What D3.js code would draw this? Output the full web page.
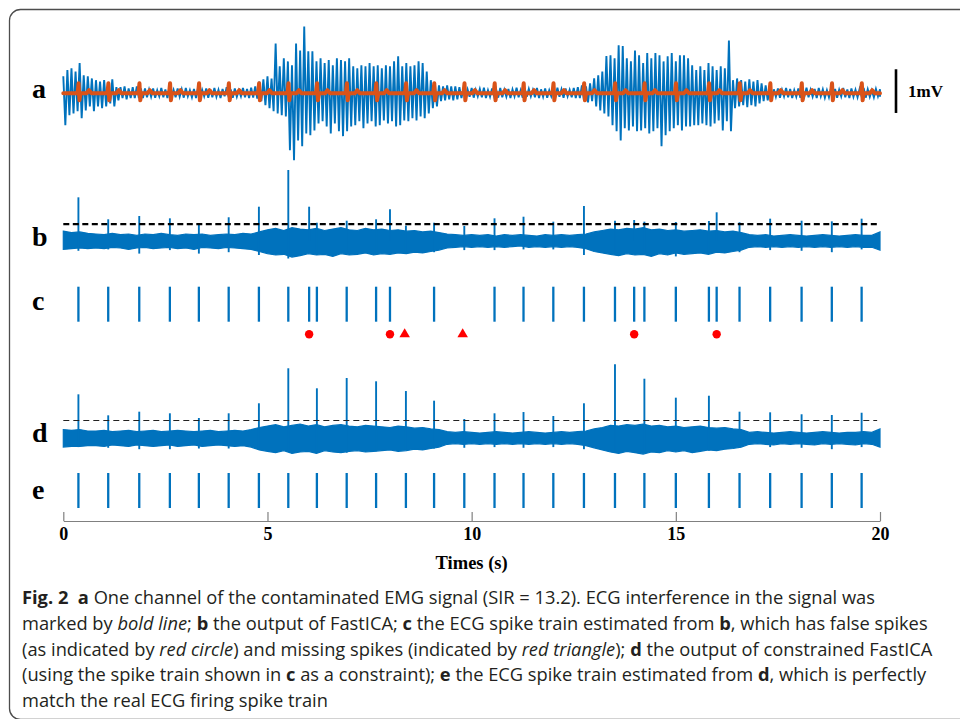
<!DOCTYPE html>
<html>
<head>
<meta charset="utf-8">
<script src="https://cdn.jsdelivr.net/npm/d3@7"></script>
<style>
  html, body { margin: 0; padding: 0; background: #fff; }
  svg { display: block; }
</style>
</head>
<body>
<div id="fig"></div>
<script>
// ---- Data ----
// time axis
const tickValues = [0, 5, 10, 15, 20];

// a: EMG envelope, upper / lower extreme every 0.1 s (mV)
const aStep = 0.1;
const aHi = [0.39,0.53,0.57,0.50,0.69,0.41,0.39,0.34,0.30,0.27,0.30,0.23,0.32,0.14,0.14,0.16,0.11,0.14,0.16,0.11,0.11,
  0.09,0.11,0.07,0.12,0.09,0.14,0.08,0.11,0.09,0.12,0.07,0.10,0.13,0.08,0.11,0.09,0.12,0.08,0.10,0.14,0.09,0.11,0.07,0.12,0.10,0.13,0.16,
  0.27,0.32,0.39,0.34,1.14,0.62,0.80,0.73,0.64,1.14,0.98,1.53,0.96,0.96,0.73,0.80,0.69,0.76,0.64,0.80,0.76,0.73,0.80,0.62,0.57,0.64,0.62,0.69,0.62,0.64,0.57,0.64,0.62,0.73,0.85,0.62,0.69,0.62,0.64,0.73,0.69,0.50,0.30,0.23,0.18,0.16,0.18,0.16,0.16,0.14,0.11,
  0.09,0.12,0.08,0.10,0.13,0.07,0.11,0.09,0.12,0.08,0.10,0.09,0.13,0.07,0.11,0.10,0.08,0.12,0.09,0.11,0.07,0.10,0.13,0.09,0.11,0.08,0.12,
  0.14,0.18,0.16,0.23,0.34,0.41,0.50,0.85,0.87,0.80,1.10,1.08,0.80,0.73,0.98,0.87,0.69,0.92,0.80,0.92,0.87,0.73,0.85,0.92,0.73,0.87,0.87,0.80,0.64,0.53,0.62,0.53,0.69,0.62,0.53,0.62,0.57,1.21,0.30,0.34,0.30,0.27,0.32,0.27,0.30,0.23,0.18,0.14,
  0.09,0.11,0.08,0.12,0.10,0.07,0.11,0.09,0.13,0.08,0.10,0.12,0.09,0.07,0.11,0.10,0.08,0.12,0.09,0.11,0.08,0.10,0.12,0.09,0.07,0.10,0.09];
const aLo = [-0.73,-0.50,-0.46,-0.41,-0.57,-0.39,-0.30,-0.41,-0.30,-0.34,-0.30,-0.23,-0.30,-0.16,-0.11,-0.14,-0.11,-0.11,-0.11,-0.11,-0.09,
  -0.08,-0.10,-0.07,-0.09,-0.11,-0.07,-0.09,-0.08,-0.10,-0.07,-0.09,-0.11,-0.08,-0.07,-0.10,-0.09,-0.08,-0.11,-0.07,-0.09,-0.10,-0.08,-0.07,-0.09,-0.11,-0.10,-0.12,
  -0.18,-0.27,-0.34,-0.41,-0.46,-0.50,-0.53,-1.30,-1.53,-1.08,-1.21,-0.92,-0.96,-0.85,-0.69,-0.64,-0.76,-0.92,-0.69,-0.87,-0.98,-0.87,-0.76,-0.73,-0.64,-0.80,-0.69,-0.64,-0.76,-0.73,-0.62,-0.69,-0.64,-0.76,-0.73,-0.62,-0.64,-0.57,-0.62,-0.53,-0.57,-0.46,-0.34,-0.30,-0.18,-0.16,-0.14,-0.16,-0.14,-0.11,-0.09,
  -0.08,-0.10,-0.07,-0.09,-0.11,-0.08,-0.07,-0.10,-0.09,-0.08,-0.11,-0.07,-0.09,-0.10,-0.08,-0.07,-0.09,-0.11,-0.08,-0.10,-0.07,-0.09,-0.08,-0.10,-0.07,-0.09,-0.11,
  -0.11,-0.16,-0.21,-0.18,-0.30,-0.39,-0.46,-0.53,-0.73,-0.87,-1.08,-0.80,-0.85,-0.76,-0.87,-0.85,-0.80,-0.92,-0.87,-0.80,-1.21,-0.96,-0.87,-0.80,-0.73,-0.85,-0.76,-0.76,-0.73,-0.73,-0.69,-0.73,-0.76,-0.69,-0.62,-0.85,-0.64,-0.87,-0.34,-0.30,-0.27,-0.32,-0.27,-0.30,-0.23,-0.18,-0.16,-0.11,
  -0.08,-0.10,-0.07,-0.09,-0.11,-0.08,-0.10,-0.07,-0.09,-0.08,-0.11,-0.07,-0.10,-0.09,-0.08,-0.10,-0.07,-0.09,-0.11,-0.08,-0.09,-0.07,-0.10,-0.08,-0.09,-0.07,-0.08];

// ECG waveform (bold line) template: time offset from each beat (s) and amplitude (mV)
const ecgOffset = [-0.05, -0.015, 0.005, 0.025, 0.05, 0.2, 0.26, 0.32];
const ecgValue = [0, 0.04, 0.23, -0.16, 0, 0, 0.07, 0];

// real ECG beat times (s) = spike train e
const trueSpikes = [0.37,1.10,1.86,2.61,3.32,4.05,4.79,5.51,6.21,6.94,7.66,8.39,9.08,9.82,
  10.56,11.27,12.00,12.75,13.51,14.23,15.00,15.81,16.56,17.31,18.08,18.82,19.55];

// b: FastICA output, noise band every 0.2 s (a.u.)
const bStep = 0.2;
const bHi = [1.4,1.2,1.3,1.1,
  1.0,0.9,1.1,0.9,1.0,0.8,1.0,0.9,1.1,0.9,0.8,1.0,0.9,1.0,0.8,0.9,1.0,0.9,1.1,1.0,
  1.3,1.6,1.8,1.5,1.9,1.7,1.6,1.8,1.5,1.7,1.9,1.6,1.5,1.8,1.6,1.7,1.5,1.6,1.4,1.5,1.3,1.4,1.2,
  1.0,0.9,0.8,0.9,0.8,0.9,0.7,0.9,0.8,0.9,0.8,0.7,0.9,0.8,0.9,0.8,0.9,1.0,
  1.3,1.5,1.7,1.6,1.8,1.7,1.9,1.6,1.7,1.5,1.6,1.4,1.5,1.6,1.4,1.5,1.3,1.4,1.2,
  0.9,0.8,0.9,0.7,0.8,0.9,0.8,0.7,0.8,0.9,0.8,0.7,0.8,0.9,0.8,0.8,1.3];
const bLo = [-1.2,-1.1,-1.0,-1.1,
  -1.0,-1.1,-0.9,-1.0,-1.2,-1.0,-0.9,-1.1,-1.0,-0.9,-1.1,-1.0,-1.2,-0.9,-1.0,-1.1,-0.9,-1.0,-1.1,-1.2,
  -1.5,-1.8,-2.0,-1.9,-2.3,-2.1,-1.8,-2.0,-1.9,-2.2,-1.8,-2.0,-1.9,-1.7,-2.0,-1.8,-1.9,-1.7,-1.8,-1.6,-1.7,-1.5,-1.3,
  -1.0,-0.9,-0.8,-0.9,-0.8,-0.9,-0.8,-0.9,-0.8,-0.7,-0.9,-0.8,-0.9,-0.8,-0.9,-0.8,-0.9,-1.1,
  -1.5,-1.7,-1.9,-2.1,-1.8,-2.0,-1.9,-2.2,-1.8,-2.0,-1.7,-1.9,-1.8,-1.7,-1.9,-1.6,-1.7,-1.5,-1.3,
  -0.9,-0.8,-0.9,-0.8,-0.9,-0.8,-0.9,-0.8,-0.9,-0.8,-0.9,-0.8,-0.9,-0.8,-0.9,-0.9,-1.3];
// b: peak / trough at each real beat, and at the false detections
const bPeaks = [6.24,3.1,3.57,3.24,2.55,3.39,4.9,10.14,2.61,2.9,3.1,2.2,2.61,2.15,
  3.24,3.47,2.76,5.0,2.9,2.76,2.71,2.86,2.67,3.19,2.9,2.81,3.19];
const bTroughs = [-1.4,-1.2,-1.8,-1.3,-1.8,-1.6,-2.0,-2.5,-2.0,-1.8,-1.9,-1.6,-1.6,-1.3,
  -1.3,-1.2,-1.2,-2.0,-1.8,-1.8,-2.2,-1.6,-1.6,-1.3,-1.4,-1.6,-1.2];
const falseSpikes = [6.02, 8.00, 13.98, 16.00];
const bFalsePeaks = [4.9, 4.53, 3.0, 4.1];
const bThreshold = 2.4;

// c: spike train estimated from b, and missed beats
const cSpikes = [0.37,1.10,1.86,2.61,3.32,4.05,4.79,5.51,6.02,6.21,6.94,7.66,8.00,9.08,
  10.56,11.27,12.00,12.75,13.51,13.98,14.23,15.00,15.81,16.00,16.56,17.31,18.08,18.82,19.55];
const missedSpikes = [8.36, 9.78];

// d: constrained FastICA output (a.u.)
const dStep = 0.2;
const dHi = [1.2,1.1,1.2,1.0,
  1.0,1.1,0.9,1.0,1.1,0.9,1.0,1.1,0.9,1.0,1.1,1.0,0.9,1.0,1.1,0.9,1.0,1.1,1.0,1.2,
  1.5,1.7,1.9,1.6,1.8,2.0,1.7,1.9,1.6,1.8,1.9,1.7,1.6,1.8,1.7,1.6,1.5,1.7,1.6,1.4,1.5,1.3,1.2,
  0.9,0.8,0.9,0.8,0.7,0.8,0.9,0.8,0.7,0.8,0.9,0.8,0.7,0.8,0.9,0.8,0.9,1.0,
  1.3,1.5,1.8,1.7,1.9,1.8,2.0,1.7,1.8,1.6,1.7,1.5,1.6,1.7,1.5,1.4,1.5,1.3,1.2,
  0.8,0.9,0.8,0.7,0.8,0.9,0.8,0.7,0.8,0.9,0.8,0.7,0.8,0.8,0.9,0.8,1.3];
const dLo = [-1.3,-1.2,-1.2,-1.1,
  -1.1,-1.2,-1.0,-1.1,-1.2,-1.0,-1.1,-1.2,-1.1,-1.0,-1.2,-1.1,-1.0,-1.2,-1.1,-1.0,-1.1,-1.2,-1.1,-1.3,
  -1.7,-1.9,-2.1,-1.8,-2.2,-2.0,-1.9,-2.2,-1.8,-2.0,-2.1,-1.9,-1.8,-2.0,-1.9,-1.8,-1.7,-1.9,-1.8,-1.6,-1.7,-1.5,-1.3,
  -0.9,-0.8,-0.9,-0.8,-0.9,-0.8,-0.9,-0.8,-0.9,-0.8,-0.9,-0.8,-0.9,-0.8,-0.9,-0.8,-0.9,-1.1,
  -1.4,-1.7,-2.0,-2.2,-1.9,-2.1,-2.3,-2.0,-2.1,-1.8,-2.0,-1.8,-2.1,-1.9,-1.7,-1.8,-1.6,-1.5,-1.3,
  -0.9,-0.8,-0.9,-1.0,-0.8,-0.9,-0.8,-0.9,-1.0,-0.8,-0.9,-0.8,-0.9,-1.0,-0.8,-0.9,-1.3];
const dPeaks = [6.24,3.24,3.76,3.53,2.86,3.53,4.96,9.96,7.1,8.57,8.1,6.71,5.33,2.71,
  3.53,3.71,3.14,4.96,10.53,8.47,5.76,6.04,3.76,3.67,3.39,3.29,3.61];
const dTroughs = [-1.3,-1.4,-1.6,-1.6,-1.5,-1.5,-1.7,-1.9,-1.9,-2.1,-1.9,-1.7,-1.5,-1.4,
  -1.3,-1.4,-1.3,-1.6,-2.1,-1.9,-1.7,-1.8,-1.4,-1.3,-1.4,-1.6,-1.3];
const dThreshold = 2.5;

const panelLabels = ['a', 'b', 'c', 'd', 'e'];

// caption lines: [text, style]
const captionLines = [
  [['Fig. 2', 'b'], ['  ', ''], ['a', 'b'], [' One channel of the contaminated EMG signal (SIR = 13.2). ECG interference in the signal was', '']],
  [['marked by ', ''], ['bold line', 'i'], ['; ', ''], ['b', 'b'], [' the output of FastICA; ', ''], ['c', 'b'], [' the ECG spike train estimated from ', ''], ['b', 'b'], [', which has false spikes', '']],
  [['(as indicated by ', ''], ['red circle', 'i'], [') and missing spikes (indicated by ', ''], ['red triangle', 'i'], ['); ', ''], ['d', 'b'], [' the output of constrained FastICA', '']],
  [['(using the spike train shown in ', ''], ['c', 'b'], [' as a constraint); ', ''], ['e', 'b'], [' the ECG spike train estimated from ', ''], ['d', 'b'], [', which is perfectly', '']],
  [['match the real ECG firing spike train', '']]
];

// ---- Drawing ----
const WIDTH = 960;
const HEIGHT = 719;
const BLUE = '#0072bd';
const ORANGE = '#d95319';
const RED = '#ff0000';
const SERIF = '"Liberation Serif", "Times New Roman", serif';
const SANS = '"Open Sans", "Noto Sans", sans-serif';

const svg = d3.select('#fig').append('svg')
  .attr('width', WIDTH)
  .attr('height', HEIGHT)
  .attr('viewBox', `0 0 ${WIDTH} ${HEIGHT}`);

// frame
svg.append('rect')
  .attr('x', 9.5).attr('y', 9.5)
  .attr('width', 1000).attr('height', 710)
  .attr('rx', 11)
  .attr('fill', 'none')
  .attr('stroke', '#4d4d4d')
  .attr('stroke-width', 1.3);

// scales
const x = d3.scaleLinear().domain([0, 20]).range([63.3, 880]);
const yA = d3.scaleLinear().domain([-1, 1]).range([137, 49.6]);
const yB = d3.scaleLinear().domain([-2, 10]).range([255, 171]);
const yC = d3.scaleLinear().domain([0, 1]).range([321.7, 286.7]);
const yD = d3.scaleLinear().domain([-2, 10]).range([452, 368]);
const yE = d3.scaleLinear().domain([0, 1]).range([508, 473]);

// a: contaminated EMG as zigzag between extremes
const aPts = [];
aHi.forEach((v, i) => {
  aPts.push([i * aStep, v]);
  aPts.push([Math.min(20, i * aStep + aStep / 2), aLo[i]]);
});
const lineXY = d3.line().x((d) => x(d[0])).y((d) => yA(d[1]));
svg.append('path')
  .attr('d', lineXY(aPts))
  .attr('fill', 'none')
  .attr('stroke', BLUE)
  .attr('stroke-width', 1.9)
  .attr('stroke-linejoin', 'miter');

// a: ECG interference (bold line)
const ecgPts = [[0, 0]];
trueSpikes.forEach((s) => {
  ecgOffset.forEach((o, k) => ecgPts.push([s + o, ecgValue[k]]));
});
ecgPts.push([20, 0]);
svg.append('path')
  .attr('d', lineXY(ecgPts))
  .attr('fill', 'none')
  .attr('stroke', ORANGE)
  .attr('stroke-width', 4)
  .attr('stroke-linejoin', 'round')
  .attr('stroke-linecap', 'round');

// scale bar
svg.append('line')
  .attr('x1', 896).attr('x2', 896)
  .attr('y1', yA(0.55)).attr('y2', yA(-0.45))
  .attr('stroke', '#000').attr('stroke-width', 2.6);
svg.append('text')
  .attr('x', 908).attr('y', 97.3)
  .attr('font-family', SERIF).attr('font-weight', 'bold').attr('font-size', 17)
  .text('1mV');

// b and d: noise band + beat spikes + threshold
function drawOutput(hi, lo, step, y, peaks, troughs, extraT, extraPeaks, threshold, dash) {
  const area = d3.area()
    .x((d, i) => x(i * step))
    .y0((d, i) => y(lo[i]))
    .y1((d) => y(d));
  svg.append('path')
    .datum(hi)
    .attr('d', area)
    .attr('fill', BLUE)
    .attr('stroke', BLUE)
    .attr('stroke-width', 1.2)
    .attr('stroke-linejoin', 'miter');

  const spikes = trueSpikes.map((t, i) => ({ t, top: peaks[i], bottom: troughs[i] }))
    .concat(extraT.map((t, i) => ({ t, top: extraPeaks[i], bottom: 0 })));
  svg.append('g')
    .selectAll('line')
    .data(spikes)
    .join('line')
    .attr('x1', (d) => x(d.t)).attr('x2', (d) => x(d.t))
    .attr('y1', (d) => y(d.bottom)).attr('y2', (d) => y(d.top))
    .attr('stroke', BLUE)
    .attr('stroke-width', 1.9);

  svg.append('line')
    .attr('x1', x(0)).attr('x2', x(19.93))
    .attr('y1', y(threshold)).attr('y2', y(threshold))
    .attr('stroke', dash.color)
    .attr('stroke-width', dash.width)
    .attr('stroke-dasharray', dash.pattern);
}

drawOutput(bHi, bLo, bStep, yB, bPeaks, bTroughs, falseSpikes, bFalsePeaks, bThreshold,
  { color: '#000', width: 2.2, pattern: '6,3.5' });
drawOutput(dHi, dLo, dStep, yD, dPeaks, dTroughs, [], [], dThreshold,
  { color: '#222', width: 1.2, pattern: '6,4' });

// spike trains c and e
function drawTrain(times, y) {
  svg.append('g')
    .selectAll('line')
    .data(times)
    .join('line')
    .attr('x1', (d) => x(d)).attr('x2', (d) => x(d))
    .attr('y1', y(0)).attr('y2', y(1))
    .attr('stroke', BLUE)
    .attr('stroke-width', 2.3);
}
drawTrain(cSpikes, yC);
drawTrain(trueSpikes, yE);

// false (circle) and missed (triangle) markers under c
svg.append('g')
  .selectAll('circle')
  .data(falseSpikes)
  .join('circle')
  .attr('cx', (d) => x(d))
  .attr('cy', yC(-0.36))
  .attr('r', 4.2)
  .attr('fill', RED);
svg.append('g')
  .selectAll('path')
  .data(missedSpikes)
  .join('path')
  .attr('transform', (d) => `translate(${x(d)},${yC(-0.36)})`)
  .attr('d', d3.symbol().type(d3.symbolTriangle).size(48))
  .attr('fill', RED);

// panel letters
const labelY = [98, 246, 310, 442, 499];
svg.append('g')
  .selectAll('text')
  .data(panelLabels)
  .join('text')
  .attr('x', 32)
  .attr('y', (d, i) => labelY[i])
  .attr('font-family', SERIF)
  .attr('font-weight', 'bold')
  .attr('font-size', 28)
  .text((d) => d);

// time axis
const axis = svg.append('g')
  .attr('transform', 'translate(0,521)')
  .call(
    d3.axisBottom(x)
      .tickValues(tickValues)
      .tickFormat(d3.format('d'))
      .tickSizeInner(-9)
      .tickSizeOuter(0)
      .tickPadding(6)
  );
axis.select('.domain').attr('stroke', '#808080').attr('stroke-width', 1.2);
axis.selectAll('.tick line').attr('stroke', '#808080').attr('stroke-width', 1.2);
axis.selectAll('.tick text')
  .attr('fill', '#000')
  .attr('font-family', SERIF)
  .attr('font-weight', 'bold')
  .attr('font-size', 18);

svg.append('text')
  .attr('x', x(10))
  .attr('y', 569)
  .attr('text-anchor', 'middle')
  .attr('font-family', SERIF)
  .attr('font-weight', 'bold')
  .attr('font-size', 18.5)
  .text('Times (s)');

// caption
const caption = svg.append('g')
  .attr('font-family', SANS)
  .attr('font-size', 18.3)
  .attr('fill', '#231f20');
captionLines.forEach((line, li) => {
  const t = caption.append('text')
    .attr('x', 22)
    .attr('y', 604.3 + li * 25.6)
    .style('white-space', 'pre');
  line.forEach(([str, style]) => {
    t.append('tspan')
      .attr('font-weight', style === 'b' ? 'bold' : null)
      .attr('font-style', style === 'i' ? 'italic' : null)
      .text(str);
  });
});
</script>
</body>
</html>
